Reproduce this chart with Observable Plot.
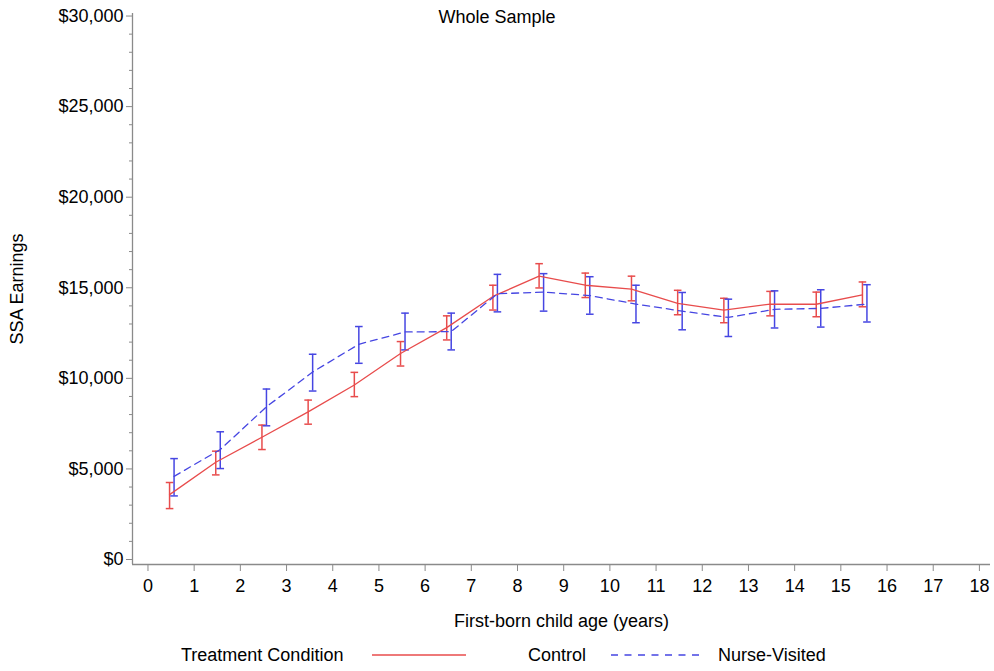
<!DOCTYPE html>
<html><head><meta charset="utf-8">
<script src="https://cdn.jsdelivr.net/npm/d3@7"></script>
<script src="https://cdn.jsdelivr.net/npm/@observablehq/plot@0.6"></script>
<style>
body{margin:0;background:#fff;font-family:"Liberation Sans",Arial,sans-serif;}
#wrap{position:relative;width:994px;height:671px;background:#fff;}
#title{position:absolute;top:8px;left:0;width:994px;text-align:center;font-size:18px;line-height:18px;color:#000;}
#legend{position:absolute;top:640px;left:0;width:994px;height:31px;font-size:18px;color:#000;}
.lg{position:absolute;top:6px;line-height:18px;white-space:nowrap;}
.sw{position:absolute;top:13px;}
</style></head><body>
<div id="wrap"><div id="chart"></div><div id="title"></div><div id="legend"></div></div>
<script>
// ---- data ----
const title = "Whole Sample";
const ages = [0.5, 1.5, 2.5, 3.5, 4.5, 5.5, 6.5, 7.5, 8.5, 9.5, 10.5, 11.5, 12.5, 13.5, 14.5, 15.5];
const controlMean = [3580, 5370, 6750, 8150, 9630, 11370, 12800, 14520, 15640, 15140, 14930, 14140, 13770, 14100, 14090, 14610];
const controlLow  = [2810, 4670, 6070, 7470, 8990, 10680, 12120, 13770, 14990, 14460, 14280, 13510, 13070, 13450, 13400, 13950];
const controlHigh = [4250, 5980, 7420, 8800, 10330, 12030, 13450, 15140, 16330, 15810, 15640, 14860, 14420, 14800, 14760, 15320];
const nurseMean = [4590, 6070, 8430, 10350, 11880, 12560, 12580, 14670, 14760, 14570, 14100, 13710, 13360, 13810, 13860, 14100];
const nurseLow  = [3510, 5020, 7380, 9300, 10830, 11570, 11570, 13670, 13710, 13540, 13070, 12680, 12310, 12780, 12830, 13110];
const nurseHigh = [5570, 7050, 9410, 11330, 12860, 13600, 13600, 15740, 15780, 15610, 15140, 14740, 14370, 14830, 14890, 15170];
const seriesNames = ["Control", "Nurse-Visited"];
const legendTitle = "Treatment Condition";
const xTicks = [0, 1, 2, 3, 4, 5, 6, 7, 8, 9, 10, 11, 12, 13, 14, 15, 16, 17, 18];
const yTicks = [0, 5000, 10000, 15000, 20000, 25000, 30000];
const yMinorTicks = [1000, 2000, 3000, 4000, 6000, 7000, 8000, 9000, 11000, 12000, 13000, 14000, 16000, 17000, 18000, 19000, 21000, 22000, 23000, 24000, 26000, 27000, 28000, 29000];
const xLabel = "First-born child age (years)";
const yLabel = "SSA Earnings";

// ---- styling ----
const xDomain = [-0.335, 18.24];
const yDomain = [-276, 30140];
const red = "#e84c4c", blue = "#4646e2", axisGray = "#8a8a8a";
const font = '"Liberation Sans", Arial, sans-serif';

const control = ages.map((a, i) => ({age: a, mean: controlMean[i], lo: controlLow[i], hi: controlHigh[i]}));
const nurse = ages.map((a, i) => ({age: a, mean: nurseMean[i], lo: nurseLow[i], hi: nurseHigh[i]}));

const capSymbol = {draw(ctx, size) { const w = Math.sqrt(size / Math.PI); ctx.moveTo(-w, 0); ctx.lineTo(w, 0); }};

function bars(data, color, dx) {
  return [
    Plot.ruleX(data, {x: "age", y1: "lo", y2: "hi", stroke: color, strokeWidth: 1.5, dx}),
    Plot.dot(data, {x: "age", y: "lo", symbol: capSymbol, r: 3.8, stroke: color, strokeWidth: 1.5, dx}),
    Plot.dot(data, {x: "age", y: "hi", symbol: capSymbol, r: 3.8, stroke: color, strokeWidth: 1.5, dx})
  ];
}

const chart = Plot.plot({
  width: 994, height: 640,
  marginLeft: 132, marginRight: 4, marginTop: 13, marginBottom: 76,
  x: {domain: xDomain},
  y: {domain: yDomain},
  style: {fontFamily: font, fontSize: "17px", color: "#000", background: "#fff"},
  marks: [
    Plot.ruleY([yDomain[0]], {stroke: axisGray, strokeWidth: 1.3}),
    Plot.ruleX([xDomain[0]], {stroke: axisGray, strokeWidth: 1.3}),
    Plot.axisY({ticks: yMinorTicks, tickSize: 3, tickFormat: () => "", label: null, stroke: axisGray}),
    Plot.axisY({ticks: yTicks, tickSize: 6, tickPadding: 3, tickFormat: d3.format("$,"), fontSize: 18,
      stroke: axisGray, fill: "#000", label: yLabel, labelArrow: "none", labelAnchor: "center", labelOffset: 122}),
    Plot.axisX({ticks: xTicks, tickSize: 7, tickPadding: 8, tickFormat: d3.format("d"), fontSize: 18,
      stroke: axisGray, fill: "#000", label: xLabel, labelArrow: "none", labelAnchor: "center", labelOffset: 62}),
    ...bars(control, red, -1.5),
    ...bars(nurse, blue, 3),
    Plot.line(control, {x: "age", y: "mean", stroke: red, strokeWidth: 1.3, dx: -1.5}),
    Plot.line(nurse, {x: "age", y: "mean", stroke: blue, strokeWidth: 1.3, strokeDasharray: "7,5", dx: 3})
  ]
});
document.getElementById("chart").appendChild(chart);
document.getElementById("title").textContent = title;

// ---- legend ----
const legend = document.getElementById("legend");
function addText(txt, left) { const s = document.createElement("span"); s.className = "lg"; s.style.left = left + "px"; s.textContent = txt; legend.appendChild(s); }
function addSwatch(color, dash, left) {
  const ns = "http://www.w3.org/2000/svg";
  const svg = document.createElementNS(ns, "svg");
  svg.setAttribute("width", 94); svg.setAttribute("height", 4); svg.setAttribute("class", "sw");
  svg.style.left = left + "px";
  const l = document.createElementNS(ns, "line");
  l.setAttribute("x1", 0); l.setAttribute("x2", 94); l.setAttribute("y1", 2); l.setAttribute("y2", 2);
  l.setAttribute("stroke", color); l.setAttribute("stroke-width", 1.5);
  if (dash) l.setAttribute("stroke-dasharray", dash);
  svg.appendChild(l); legend.appendChild(svg);
}
addText(legendTitle, 181);
addSwatch(red, null, 372);
addText(seriesNames[0], 528);
addSwatch(blue, "7,6.5", 611);
addText(seriesNames[1], 718);
</script>
</body></html>
